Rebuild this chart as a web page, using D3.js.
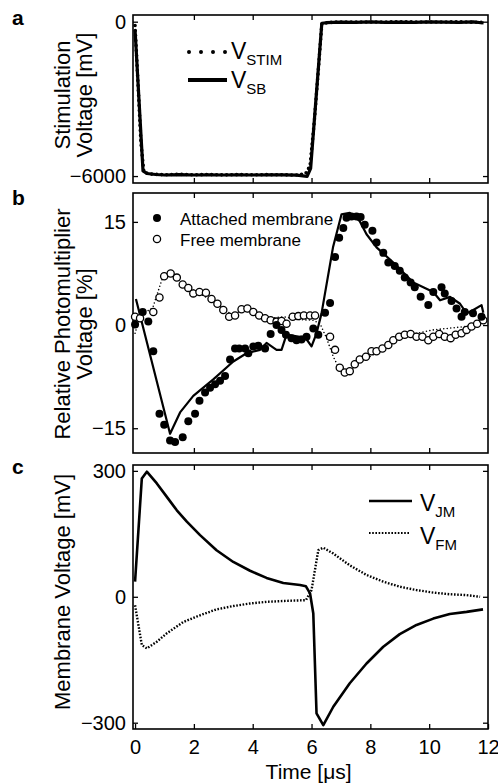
<!DOCTYPE html>
<html>
<head>
<meta charset="utf-8">
<script src="https://cdn.jsdelivr.net/npm/d3@7"></script>
<style>
  body { margin: 0; background: #fff; }
  text { font-family: "Liberation Sans", Arial, sans-serif; fill: #000; }
</style>
</head>
<body>
<svg id="fig" width="498" height="783"></svg>
<script>
'use strict';
// ---- data ----
const timeTicks = [0, 2, 4, 6, 8, 10, 12];

// panel a: stimulation voltage [mV] vs time [us]
const vSB = [[0,-330],[0.27,-5800],[0.4,-5900],[0.7,-5940],[1.0,-5960],[1.5,-5945],[2.0,-5960],[2.5,-5950],
  [3.0,-5960],[3.5,-5950],[4.0,-5960],[4.5,-5950],[5.0,-5955],[5.5,-5965],[5.85,-6010],[5.97,-5700],
  [6.35,-60],[6.5,-40],[7,-20],[7.5,-30],[8,-10],[8.5,-25],[9,-15],[9.5,-30],[10,-10],[10.5,-20],[11,-25],[11.5,-10],[11.85,-50]];
const vSTIM = [[0,-150],[0.1,-2400],[0.2,-4700],[0.3,-5850],[0.5,-5920],[1.0,-5950],[1.5,-5930],[2.0,-5950],
  [2.5,-5940],[3.0,-5955],[3.5,-5945],[4.0,-5950],[4.5,-5945],[5.0,-5950],[5.5,-5960],[5.8,-5900],[5.95,-5600],
  [6.1,-3800],[6.25,-1600],[6.35,-80],[6.6,-30],[7,-10],[8,-15],[9,-5],[10,-15],[11,-5],[11.85,-30]];

// panel b: relative photomultiplier voltage [%]
const attachedPts = [[0,0.1],[0.26,1.9],[0.45,0.5],[0.62,-3.8],[0.83,-12.9],[0.99,-14.5],[1.19,-16.8],[1.36,-17.0],
  [1.62,-16.3],[1.81,-14.0],[2.04,-12.9],[2.19,-11.0],[2.38,-9.8],[2.55,-9.1],[2.72,-8.6],[2.89,-8.1],[3.06,-7.4],
  [3.23,-5.0],[3.40,-3.4],[3.54,-3.4],[3.74,-3.4],[3.85,-4.1],[4.02,-3.1],[4.19,-3.0],[4.42,-3.4],[4.61,-1.3],
  [4.81,0],[4.98,-0.7],[5.13,-1.4],[5.32,-1.9],[5.49,-2.2],[5.66,-2.1],[5.83,-1.7],[6.06,-0.5],[6.23,-1.4],
  [6.46,1.8],[6.63,3.2],[6.80,9.9],[6.94,12.7],[7.08,14.1],[7.19,15.6],[7.36,15.8],[7.53,15.8],[7.67,15.7],
  [7.81,14.6],[8.07,13.7],[8.21,12.0],[8.44,10.5],[8.61,9.1],[8.83,8.6],[9.00,7.9],[9.17,6.9],[9.37,6.2],
  [9.51,5.5],[9.71,4.1],[9.97,2.9],[10.14,4.8],[10.42,5.5],[10.53,4.6],[10.76,3.5],[10.93,2.4],[11.10,1.2],
  [11.21,1.9],[11.49,1.7],[11.78,1.2]];
const attachedFit = [[0.03,3.8],[1.19,-15.8],[1.53,-12.7],[1.98,-10.3],[2.66,-7.9],[3.34,-5.3],[3.79,-4.1],
  [4.25,-3.6],[4.47,-2.6],[4.81,-3.6],[4.98,-3.6],[5.15,-1.4],[5.6,-1.7],[5.77,-1.7],[6.0,-3.1],[6.17,-1.2],
  [6.34,1.7],[6.73,11.3],[7.02,16.1],[7.3,16.3],[7.64,15.1],[7.87,13.2],[8.21,11.3],[8.78,9.1],[9.46,6.2],
  [9.8,5.5],[10.14,4.8],[10.37,3.6],[10.71,4.1],[11.05,3.1],[11.27,1.7],[11.5,2.2],[11.78,2.9],[11.84,1.8]];
const freePts = [[0,1.2],[0.17,1.0],[0.62,1.9],[0.83,4.0],[0.99,7.1],[1.21,7.5],[1.42,6.9],[1.62,5.9],[1.81,5.4],
  [1.98,4.6],[2.19,4.8],[2.41,4.7],[2.6,3.8],[2.8,3.1],[3.0,2.2],[3.2,1.2],[3.4,1.4],[3.62,2.3],[3.82,2.4],
  [4.02,1.9],[4.22,1.4],[4.42,1.0],[4.61,0.7],[4.81,0.5],[4.98,0.6],[5.15,0.2],[5.36,1.2],[5.55,1.3],[5.74,1.4],
  [5.95,1.4],[6.12,1.4],[6.63,-1.7],[6.8,-3.6],[6.96,-6.2],[7.13,-6.9],[7.3,-6.7],[7.47,-5.7],[7.64,-5.0],
  [7.85,-4.6],[8.04,-3.8],[8.21,-3.8],[8.41,-3.4],[8.61,-2.9],[8.78,-2.2],[8.98,-1.7],[9.17,-1.4],[9.37,-1.3],
  [9.57,-1.7],[9.77,-1.7],[9.97,-2.2],[10.14,-1.7],[10.34,-1.3],[10.53,-1.7],[10.73,-1.9],[10.9,-1.4],
  [11.1,-1.2],[11.27,-0.7],[11.44,-0.2],[11.63,0.2],[11.84,0.7]];
const freeFit = [[0,-1.2],[0.17,1.4],[0.6,2.5],[0.96,7.2],[1.25,7.7],[1.6,6.0],[2.2,4.6],[2.8,3.0],[3.3,1.5],
  [3.7,2.2],[4.2,1.3],[4.6,1.0],[5.04,1.2],[5.6,0.8],[6.06,0.7],[6.29,0.2],[6.51,-1.9],[6.74,-4.6],[6.96,-6.5],
  [7.25,-6.9],[7.64,-5.3],[8.44,-3.6],[9.0,-1.7],[9.57,-1.2],[10.14,-0.7],[10.59,-0.5],[11.27,-0.2],[11.84,0.7]];

// panel c: membrane voltage [mV]
const vJM = [[0,36],[0.23,282],[0.40,298],[0.74,270],[1.08,238],[1.42,206],[1.76,179],[2.21,147],[2.77,111],
  [3.34,83],[3.91,62],[4.47,45],[5.04,33],[5.61,28],[5.81,25],[5.95,8],[6.06,-40],[6.17,-278],[6.4,-306],
  [6.74,-262],[7.3,-206],[7.87,-159],[8.44,-119],[9.0,-89],[9.57,-67],[10.14,-52],[10.7,-41],[11.27,-36],[11.83,-30]];
const vFM = [[0,-20],[0.23,-115],[0.40,-123],[0.74,-107],[1.08,-87],[1.64,-60],[2.21,-44],[2.77,-30],[3.34,-22],
  [3.91,-16],[4.47,-12],[5.04,-10],[5.81,-8],[6.0,16],[6.23,111],[6.4,117],[6.74,103],[7.3,75],[7.87,52],
  [8.44,36],[9.0,24],[9.57,16],[10.14,10],[10.7,6],[11.27,4],[11.73,0]];

// ---- drawing ----
const svg = d3.select("#fig");
const x = d3.scaleLinear().domain([-0.07, 12]).range([133, 488]);
const tickLen = 5;
const inner = timeTicks.filter(t => t > 0 && t < 12);

function panel({top, bottom, yDomain, yTicks, letter, title, titleY, showXLabels}) {
    const y = d3.scaleLinear().domain(yDomain).range([bottom, top]);
    const g = svg.append("g");
    // inward ticks on all four sides
    g.append("g").attr("transform", `translate(${x.range()[0]},0)`)
        .call(d3.axisLeft(y).tickValues(yTicks).tickSize(-tickLen).tickPadding(7).tickFormat(d3.format("d")));
    g.append("g").attr("transform", `translate(${x.range()[1]},0)`)
        .call(d3.axisRight(y).tickValues(yTicks).tickSize(-tickLen).tickFormat(""));
    g.append("g").attr("transform", `translate(0,${top})`)
        .call(d3.axisTop(x).tickValues(inner).tickSize(-tickLen).tickFormat(""));
    g.append("g").attr("transform", `translate(0,${bottom})`)
        .call(d3.axisBottom(x).tickValues(showXLabels ? timeTicks : inner)
            .tickSize(-tickLen).tickPadding(11).tickFormat(showXLabels ? d3.format("d") : ""));
    g.selectAll(".domain").remove();
    g.selectAll(".tick line").attr("stroke", "#000").attr("stroke-width", 1.3);
    g.selectAll(".tick text").style("font-size", "20px").attr("fill", "#000");
    g.append("rect")
        .attr("x", x.range()[0]).attr("y", top)
        .attr("width", x.range()[1] - x.range()[0]).attr("height", bottom - top)
        .attr("fill", "none").attr("stroke", "#000").attr("stroke-width", 1.6);
    svg.append("text").attr("x", 12).attr("y", letter.y)
        .style("font-size", "21px").style("font-weight", "bold").text(letter.t);
    title.forEach((line, i) => {
        svg.append("text")
            .attr("transform", `translate(${70 + i * 22},${titleY}) rotate(-90)`)
            .attr("text-anchor", "middle").style("font-size", "22px").text(line);
    });
    return y;
}

const ya = panel({top: 15, bottom: 183, yDomain: [-6270, 260], yTicks: [-6000, 0],
    letter: {t: "a", y: 25}, title: ["Stimulation", "Voltage [mV]"], titleY: 95});
const yb = panel({top: 193, bottom: 453, yDomain: [-18.6, 19.2], yTicks: [-15, 0, 15],
    letter: {t: "b", y: 205}, title: ["Relative Photomultiplier", "Voltage [%]"], titleY: 324});
const yc = panel({top: 465, bottom: 729, yDomain: [-315, 314], yTicks: [-300, 0, 300],
    letter: {t: "c", y: 474}, title: ["Membrane Voltage [mV]"], titleY: 592, showXLabels: true});

svg.append("text").attr("x", x(5.9)).attr("y", 779).attr("text-anchor", "middle")
    .style("font-size", "21px").text("Time [μs]");

function line(yScale) {
    return d3.line().x(d => x(d[0])).y(d => yScale(d[1]));
}

// panel a traces
svg.append("path").attr("d", line(ya)(vSB)).attr("fill", "none").attr("stroke", "#000")
    .attr("stroke-width", 3.2).attr("stroke-linejoin", "round");
svg.append("path").attr("d", line(ya)(vSTIM)).attr("fill", "none").attr("stroke", "#000")
    .attr("stroke-width", 3.6).attr("stroke-linecap", "round").attr("stroke-dasharray", "0 5");

// panel a legend
svg.append("line").attr("x1", 189).attr("x2", 226).attr("y1", 52).attr("y2", 52)
    .attr("stroke", "#000").attr("stroke-width", 4).attr("stroke-linecap", "round").attr("stroke-dasharray", "0 12");
svg.append("line").attr("x1", 188).attr("x2", 227).attr("y1", 80).attr("y2", 80)
    .attr("stroke", "#000").attr("stroke-width", 4);
function subLabel(xp, yp, main, sub) {
    const t = svg.append("text").attr("x", xp).attr("y", yp).style("font-size", "23px");
    t.append("tspan").text(main);
    t.append("tspan").attr("dy", 6).style("font-size", "15px").text(sub);
}
subLabel(231, 59, "V", "STIM");
subLabel(231, 88, "V", "SB");

// panel b traces
svg.append("path").attr("d", line(yb)(freeFit)).attr("fill", "none").attr("stroke", "#000")
    .attr("stroke-width", 1.6).attr("stroke-linecap", "round").attr("stroke-dasharray", "0 3.5");
svg.append("path").attr("d", line(yb)(attachedFit)).attr("fill", "none").attr("stroke", "#000")
    .attr("stroke-width", 2.2).attr("stroke-linejoin", "round");
svg.append("g").selectAll("circle").data(freePts).join("circle")
    .attr("cx", d => x(d[0])).attr("cy", d => yb(d[1])).attr("r", 3.6)
    .attr("fill", "#fff").attr("stroke", "#000").attr("stroke-width", 1.3);
svg.append("g").selectAll("circle").data(attachedPts).join("circle")
    .attr("cx", d => x(d[0])).attr("cy", d => yb(d[1])).attr("r", 4).attr("fill", "#000");

// panel b legend
svg.append("circle").attr("cx", 157).attr("cy", 218).attr("r", 4).attr("fill", "#000");
svg.append("circle").attr("cx", 157).attr("cy", 239).attr("r", 3.6)
    .attr("fill", "#fff").attr("stroke", "#000").attr("stroke-width", 1.3);
svg.append("text").attr("x", 180).attr("y", 225).style("font-size", "17px").text("Attached membrane");
svg.append("text").attr("x", 180).attr("y", 246).style("font-size", "17px").text("Free membrane");

// panel c traces
svg.append("path").attr("d", line(yc)(vJM)).attr("fill", "none").attr("stroke", "#000")
    .attr("stroke-width", 2.6).attr("stroke-linejoin", "round");
svg.append("path").attr("d", line(yc)(vFM)).attr("fill", "none").attr("stroke", "#000")
    .attr("stroke-width", 2.4).attr("stroke-dasharray", "1.6 1.6");

// panel c legend
svg.append("line").attr("x1", 369).attr("x2", 412).attr("y1", 501).attr("y2", 501)
    .attr("stroke", "#000").attr("stroke-width", 2.6);
svg.append("line").attr("x1", 369).attr("x2", 410).attr("y1", 533).attr("y2", 533)
    .attr("stroke", "#000").attr("stroke-width", 2.2).attr("stroke-dasharray", "1.6 1.6");
subLabel(420, 511, "V", "JM");
subLabel(420, 544, "V", "FM");
</script>
</body>
</html>
